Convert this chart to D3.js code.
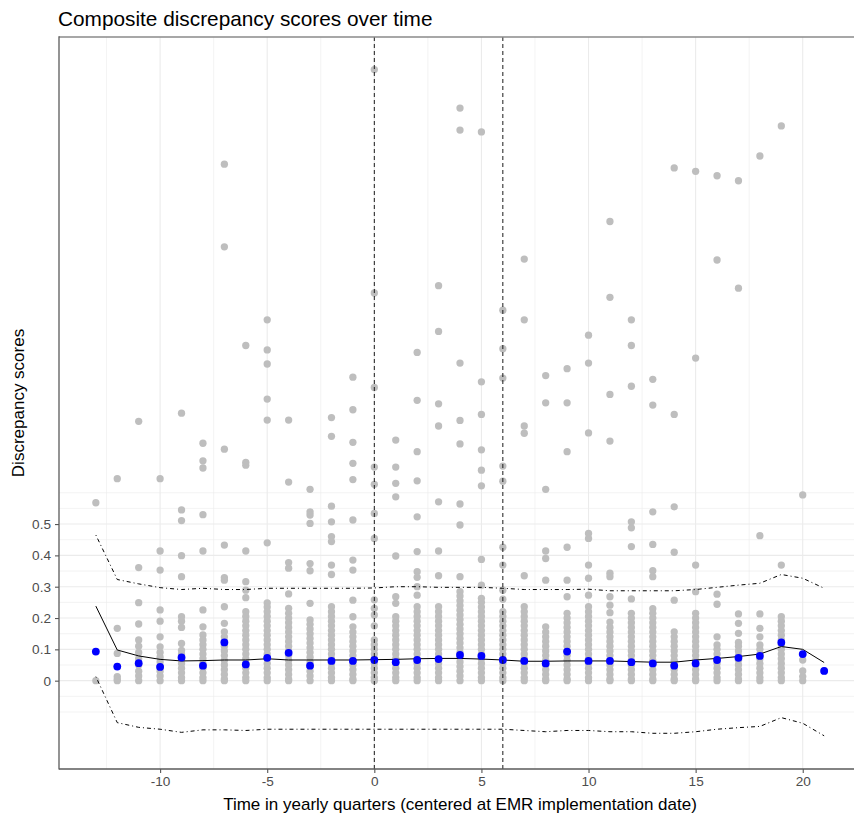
<!DOCTYPE html>
<html>
<head>
<meta charset="utf-8">
<script src="https://cdn.jsdelivr.net/npm/d3@7"></script>
<style>
  html, body { margin: 0; padding: 0; background: #fff; }
  svg { display: block; font-family: "Liberation Sans", Arial, sans-serif; }
</style>
</head>
<body>
<svg id="chart" width="854" height="817"></svg>
<script>
// ---- data ----
const quarters = [-13,-12,-11,-10,-9,-8,-7,-6,-5,-4,-3,-2,-1,0,1,2,3,4,5,6,7,8,9,10,11,12,13,14,15,16,17,18,19,20,21];

// individual composite discrepancy scores per quarter (grey points)
const scoresByQuarter = [
  [0.568, 0],
  [0.645, 0.167, 0.087, 0.013, 0.005, 0],
  [0.828, 0.361, 0.249, 0.181, 0.13, 0.11, 0.09, 0.07, 0.05, 0.03, 0.015, 0],
  [0.645, 0.414, 0.353, 0.226, 0.19, 0.14, 0.108, 0.09, 0.075, 0.06, 0.045, 0.03, 0.015, 0],
  [0.854, 0.545, 0.511, 0.399, 0.332, 0.204, 0.19, 0.17, 0.119, 0.097, 0.085, 0.07, 0.055, 0.04, 0.025, 0.01, 0],
  [0.758, 0.702, 0.679, 0.53, 0.414, 0.226, 0.172, 0.146, 0.13, 0.115, 0.1, 0.085, 0.07, 0.055, 0.04, 0.025, 0.01, 0],
  [1.649, 1.385, 0.739, 0.433, 0.329, 0.321, 0.236, 0.183, 0.156, 0.14, 0.125, 0.11, 0.095, 0.08, 0.065, 0.05, 0.035, 0.02, 0.005, 0],
  [1.07, 0.697, 0.688, 0.414, 0.316, 0.289, 0.265, 0.22, 0.205, 0.19, 0.175, 0.16, 0.145, 0.13, 0.115, 0.1, 0.085, 0.07, 0.055, 0.04, 0.025, 0.01, 0],
  [1.152, 1.056, 1.011, 0.899, 0.832, 0.44, 0.248, 0.235, 0.22, 0.205, 0.19, 0.175, 0.16, 0.145, 0.13, 0.115, 0.1, 0.085, 0.07, 0.055, 0.04, 0.025, 0.01, 0],
  [0.832, 0.634, 0.377, 0.359, 0.277, 0.231, 0.215, 0.2, 0.185, 0.17, 0.155, 0.14, 0.125, 0.11, 0.095, 0.08, 0.065, 0.05, 0.035, 0.02, 0.005, 0],
  [0.611, 0.539, 0.529, 0.502, 0.374, 0.351, 0.247, 0.194, 0.18, 0.165, 0.15, 0.135, 0.12, 0.105, 0.09, 0.075, 0.06, 0.045, 0.03, 0.015, 0],
  [0.84, 0.78, 0.557, 0.507, 0.46, 0.444, 0.369, 0.339, 0.236, 0.22, 0.205, 0.19, 0.175, 0.16, 0.145, 0.13, 0.115, 0.1, 0.085, 0.07, 0.055, 0.04, 0.025, 0.01, 0],
  [0.969, 0.865, 0.761, 0.694, 0.642, 0.513, 0.385, 0.353, 0.257, 0.204, 0.172, 0.155, 0.14, 0.125, 0.11, 0.095, 0.08, 0.065, 0.05, 0.035, 0.02, 0.005, 0],
  [1.951, 1.238, 0.936, 0.682, 0.627, 0.534, 0.454, 0.258, 0.231, 0.21, 0.175, 0.13, 0.115, 0.1, 0.085, 0.07, 0.055, 0.04, 0.025, 0.01, 0],
  [0.768, 0.682, 0.63, 0.587, 0.398, 0.268, 0.247, 0.204, 0.19, 0.175, 0.16, 0.145, 0.13, 0.115, 0.1, 0.085, 0.07, 0.055, 0.04, 0.025, 0.01, 0],
  [1.048, 0.895, 0.731, 0.638, 0.523, 0.412, 0.348, 0.33, 0.3, 0.273, 0.236, 0.22, 0.205, 0.19, 0.175, 0.16, 0.145, 0.13, 0.115, 0.1, 0.085, 0.07, 0.055, 0.04, 0.025, 0.01, 0],
  [1.261, 1.115, 0.884, 0.813, 0.571, 0.414, 0.335, 0.236, 0.22, 0.205, 0.19, 0.175, 0.16, 0.145, 0.13, 0.115, 0.1, 0.085, 0.07, 0.055, 0.04, 0.025, 0.01, 0],
  [1.828, 1.758, 1.014, 0.831, 0.756, 0.564, 0.497, 0.332, 0.284, 0.27, 0.255, 0.24, 0.225, 0.21, 0.195, 0.18, 0.165, 0.15, 0.135, 0.12, 0.105, 0.09, 0.075, 0.06, 0.045, 0.03, 0.015, 0],
  [1.752, 0.954, 0.85, 0.737, 0.672, 0.622, 0.387, 0.305, 0.263, 0.25, 0.235, 0.22, 0.205, 0.19, 0.175, 0.16, 0.145, 0.13, 0.115, 0.1, 0.085, 0.07, 0.055, 0.04, 0.025, 0.01, 0],
  [1.183, 1.06, 0.966, 0.685, 0.637, 0.426, 0.369, 0.289, 0.26, 0.22, 0.205, 0.19, 0.175, 0.16, 0.145, 0.13, 0.115, 0.1, 0.085, 0.07, 0.055, 0.04, 0.025, 0.01, 0],
  [1.346, 1.152, 0.813, 0.79, 0.335, 0.236, 0.22, 0.205, 0.19, 0.175, 0.16, 0.145, 0.13, 0.115, 0.1, 0.085, 0.07, 0.055, 0.04, 0.025, 0.01, 0],
  [0.974, 0.887, 0.611, 0.414, 0.39, 0.321, 0.172, 0.155, 0.14, 0.125, 0.11, 0.095, 0.08, 0.065, 0.05, 0.035, 0.02, 0.005, 0],
  [0.996, 0.887, 0.731, 0.426, 0.321, 0.268, 0.215, 0.2, 0.185, 0.17, 0.155, 0.14, 0.125, 0.11, 0.095, 0.08, 0.065, 0.05, 0.035, 0.02, 0.005, 0],
  [1.103, 1.014, 0.791, 0.47, 0.454, 0.369, 0.327, 0.273, 0.236, 0.22, 0.205, 0.19, 0.175, 0.16, 0.145, 0.13, 0.115, 0.1, 0.085, 0.07, 0.055, 0.04, 0.025, 0.01, 0],
  [1.466, 1.224, 0.914, 0.765, 0.343, 0.332, 0.268, 0.241, 0.217, 0.187, 0.17, 0.155, 0.14, 0.125, 0.11, 0.095, 0.08, 0.065, 0.05, 0.035, 0.02, 0.005, 0],
  [1.152, 1.07, 0.94, 0.507, 0.488, 0.428, 0.261, 0.215, 0.2, 0.185, 0.17, 0.155, 0.14, 0.125, 0.11, 0.095, 0.08, 0.065, 0.05, 0.035, 0.02, 0.005, 0],
  [0.962, 0.88, 0.539, 0.435, 0.351, 0.332, 0.23, 0.215, 0.2, 0.185, 0.17, 0.155, 0.14, 0.125, 0.11, 0.095, 0.08, 0.065, 0.05, 0.035, 0.02, 0.005, 0],
  [1.637, 0.85, 0.555, 0.41, 0.257, 0.156, 0.14, 0.125, 0.11, 0.095, 0.08, 0.065, 0.05, 0.035, 0.02, 0.005, 0],
  [1.626, 1.03, 0.369, 0.284, 0.215, 0.2, 0.185, 0.17, 0.155, 0.14, 0.125, 0.11, 0.095, 0.08, 0.065, 0.05, 0.035, 0.02, 0.005, 0],
  [1.612, 1.343, 0.276, 0.244, 0.14, 0.114, 0.1, 0.085, 0.07, 0.055, 0.04, 0.025, 0.01, 0],
  [1.596, 1.253, 0.213, 0.183, 0.151, 0.122, 0.11, 0.095, 0.08, 0.065, 0.05, 0.035, 0.02, 0.005, 0],
  [1.675, 0.463, 0.213, 0.167, 0.14, 0.114, 0.1, 0.085, 0.07, 0.055, 0.04, 0.025, 0.01, 0],
  [1.771, 0.369, 0.204, 0.19, 0.175, 0.16, 0.145, 0.13, 0.115, 0.1, 0.085, 0.07, 0.055, 0.04, 0.025, 0.01, 0],
  [0.593, 0.066, 0.031, 0.013, 0],
  [0.031]
];

// quarterly mean (blue points)
const quarterMeans = [0.093, 0.045, 0.056, 0.044, 0.074, 0.048, 0.122, 0.052, 0.073, 0.089, 0.048, 0.063, 0.063, 0.066, 0.059, 0.066, 0.069, 0.082, 0.079, 0.066, 0.063, 0.055, 0.093, 0.063, 0.063, 0.059, 0.055, 0.048, 0.055, 0.066, 0.073, 0.079, 0.122, 0.085, 0.031];

// centre line (solid) and control limits (dot-dash)
const centreLine = [0.238, 0.098, 0.079, 0.068, 0.063, 0.064, 0.066, 0.066, 0.070, 0.066, 0.066, 0.066, 0.066, 0.067, 0.068, 0.070, 0.071, 0.071, 0.069, 0.066, 0.062, 0.062, 0.063, 0.063, 0.063, 0.061, 0.059, 0.059, 0.066, 0.071, 0.077, 0.085, 0.109, 0.100, 0.058];
const upperLimit = [0.465, 0.323, 0.309, 0.297, 0.291, 0.295, 0.291, 0.291, 0.295, 0.295, 0.295, 0.295, 0.295, 0.296, 0.300, 0.300, 0.298, 0.298, 0.298, 0.295, 0.291, 0.291, 0.291, 0.292, 0.287, 0.287, 0.287, 0.287, 0.291, 0.298, 0.305, 0.311, 0.339, 0.327, 0.295];
const lowerLimit = [0.013, -0.134, -0.149, -0.155, -0.165, -0.157, -0.157, -0.159, -0.155, -0.155, -0.155, -0.155, -0.155, -0.155, -0.155, -0.155, -0.155, -0.155, -0.155, -0.155, -0.159, -0.163, -0.159, -0.159, -0.163, -0.163, -0.168, -0.168, -0.163, -0.155, -0.150, -0.146, -0.118, -0.136, -0.176];

const eventQuarters = [0, 6];
const xTicks = [-10, -5, 0, 5, 10, 15, 20];
const xMinor = [-12.5, -7.5, -2.5, 2.5, 7.5, 12.5, 17.5, 22.5];
const yTicks = [0, 0.1, 0.2, 0.3, 0.4, 0.5];
const yMinor = [-0.1, -0.05, 0.05, 0.15, 0.25, 0.35, 0.45, 0.55, 0.6];

const titleText = "Composite discrepancy scores over time";
const xTitle = "Time in yearly quarters (centered at EMR implementation date)";
const yTitle = "Discrepancy scores";

// ---- layout ----
const svg = d3.select("#chart");
const panel = { left: 59, right: 861, top: 37, bottom: 769 };

const x = d3.scaleLinear().domain([-14.72, 22.72]).range([panel.left, panel.right]);
const y = d3.scaleLinear().domain([-0.282, 2.055]).range([panel.bottom, panel.top]);

const g = svg.append("g");

// gridlines
const grid = g.append("g");
grid.selectAll(".vminor").data(xMinor).enter().append("line")
  .attr("x1", d => x(d)).attr("x2", d => x(d))
  .attr("y1", panel.top).attr("y2", panel.bottom)
  .attr("stroke", "#ebebeb").attr("stroke-width", 0.6);
grid.selectAll(".vmajor").data(xTicks).enter().append("line")
  .attr("x1", d => x(d)).attr("x2", d => x(d))
  .attr("y1", panel.top).attr("y2", panel.bottom)
  .attr("stroke", "#ebebeb").attr("stroke-width", 1.1);
grid.selectAll(".hminor").data(yMinor).enter().append("line")
  .attr("x1", panel.left).attr("x2", panel.right)
  .attr("y1", d => y(d)).attr("y2", d => y(d))
  .attr("stroke", "#ebebeb").attr("stroke-width", 0.6);
grid.selectAll(".hmajor").data(yTicks).enter().append("line")
  .attr("x1", panel.left).attr("x2", panel.right)
  .attr("y1", d => y(d)).attr("y2", d => y(d))
  .attr("stroke", "#ebebeb").attr("stroke-width", 1.1);

// grey points
const pts = [];
quarters.forEach((q, i) => scoresByQuarter[i].forEach(v => pts.push({ q, v })));
g.append("g").selectAll("circle").data(pts).enter().append("circle")
  .attr("cx", d => x(d.q)).attr("cy", d => y(d.v)).attr("r", 3.65)
  .attr("fill", "#bebebe");

// lines
const lineGen = arr => d3.line().x((d, i) => x(quarters[i])).y(d => y(d))(arr);
g.append("path").attr("d", lineGen(upperLimit)).attr("fill", "none")
  .attr("stroke", "#000").attr("stroke-width", 1).attr("stroke-dasharray", "1,3,4,3");
g.append("path").attr("d", lineGen(lowerLimit)).attr("fill", "none")
  .attr("stroke", "#000").attr("stroke-width", 1).attr("stroke-dasharray", "1,3,4,3");
g.append("path").attr("d", lineGen(centreLine)).attr("fill", "none")
  .attr("stroke", "#000").attr("stroke-width", 1);

// blue means
g.append("g").selectAll("circle").data(quarterMeans).enter().append("circle")
  .attr("cx", (d, i) => x(quarters[i])).attr("cy", d => y(d)).attr("r", 3.9)
  .attr("fill", "#0000ff");

// vertical reference lines
g.selectAll(".vref").data(eventQuarters).enter().append("line")
  .attr("x1", d => x(d)).attr("x2", d => x(d))
  .attr("y1", panel.top).attr("y2", panel.bottom)
  .attr("stroke", "#1a1a1a").attr("stroke-width", 1).attr("stroke-dasharray", "4,3");

// axes
const xAxis = d3.axisBottom(x).tickValues(xTicks).tickSize(4).tickPadding(3).tickFormat(d3.format("d"));
const yAxis = d3.axisLeft(y).tickValues(yTicks).tickSize(4).tickPadding(4).tickFormat(d => d === 0 ? "0" : d3.format(".1f")(d));

const gx = svg.append("g").attr("transform", `translate(0,${panel.bottom})`).call(xAxis);
const gy = svg.append("g").attr("transform", `translate(${panel.left},0)`).call(yAxis);
[gx, gy].forEach(a => {
  a.select(".domain").remove();
  a.selectAll(".tick line").attr("stroke", "#555").attr("stroke-width", 1.1);
  a.selectAll(".tick text").attr("fill", "#4d4d4d").style("font-size", "13.6px")
    .style("font-family", '"Liberation Sans", Arial, sans-serif');
});
gx.selectAll(".tick text").text(d => d < 0 ? "-" + Math.abs(d) : d);

// panel border lines
svg.append("line").attr("x1", panel.left).attr("x2", 854).attr("y1", panel.top).attr("y2", panel.top)
  .attr("stroke", "#8a8a8a").attr("stroke-width", 1.4);
svg.append("line").attr("x1", panel.left).attr("x2", panel.left).attr("y1", panel.top - 0.7).attr("y2", panel.bottom + 0.6)
  .attr("stroke", "#5a5a5a").attr("stroke-width", 1.3);
svg.append("line").attr("x1", panel.left).attr("x2", 854).attr("y1", panel.bottom).attr("y2", panel.bottom)
  .attr("stroke", "#5a5a5a").attr("stroke-width", 1.3);

// titles
svg.append("text").attr("x", 58).attr("y", 25.5).text(titleText)
  .style("font-size", "20.8px").attr("fill", "#000");
svg.append("text").attr("x", (panel.left + panel.right) / 2).attr("y", 810)
  .attr("text-anchor", "middle").text(xTitle).style("font-size", "17px").attr("fill", "#000");
svg.append("text").attr("transform", `translate(24,${(panel.top + panel.bottom) / 2}) rotate(-90)`)
  .attr("text-anchor", "middle").text(yTitle).style("font-size", "17px").attr("fill", "#000");
</script>
</body>
</html>
